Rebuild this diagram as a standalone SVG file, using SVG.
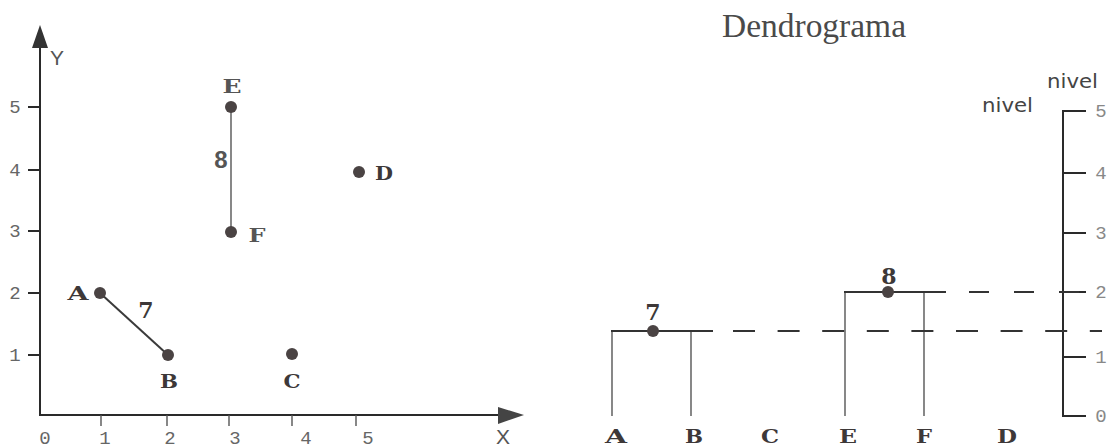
<svg xmlns="http://www.w3.org/2000/svg" width="1112" height="448" viewBox="0 0 1112 448">
<style>
.axis{stroke:#2a2a2a;stroke-width:2;fill:none}
.tick{stroke:#2a2a2a;stroke-width:2}
.thin{stroke:#555;stroke-width:1.4;fill:none}
.bar{stroke:#333;stroke-width:2.2;fill:none}
.dash{stroke:#333;stroke-width:2;fill:none}
.dot{fill:#4a4343}
.num{font-family:"Liberation Mono",monospace;font-size:19px;fill:#666;text-anchor:middle}
.lvl{font-family:"Liberation Mono",monospace;font-size:19px;fill:#888;text-anchor:middle}
.lbl{font-family:"DejaVu Serif","Liberation Serif",serif;font-weight:bold;font-size:19px;fill:#3d3838;text-anchor:middle}
.lblg{font-family:"DejaVu Serif","Liberation Serif",serif;font-weight:bold;font-size:19px;fill:#555;text-anchor:middle}
.w{font-family:"DejaVu Serif","Liberation Serif",serif;font-weight:bold;font-size:22px;fill:#3d3838;text-anchor:middle}
.ax{font-family:"Liberation Sans",sans-serif;font-size:21px;fill:#555;text-anchor:middle}
.niv{font-family:"DejaVu Sans",sans-serif;font-size:19px;fill:#444}
.title{font-family:"Liberation Serif",serif;font-size:33px;fill:#4a4a4a}
</style>

<!-- Scatter plot axes -->
<g id="scatter-axes">
  <line class="axis" x1="40" y1="46" x2="40" y2="416"/>
  <line class="axis" x1="39" y1="415" x2="500" y2="415"/>
  <polygon points="40,25 32,48 48,48" fill="#333"/>
  <polygon points="524,415 498,407 498,424" fill="#444"/>
  <line class="tick" x1="28" y1="107" x2="40" y2="107"/>
  <line class="tick" x1="28" y1="170" x2="40" y2="170"/>
  <line class="tick" x1="28" y1="231" x2="40" y2="231"/>
  <line class="tick" x1="28" y1="293" x2="40" y2="293"/>
  <line class="tick" x1="28" y1="355" x2="40" y2="355"/>
  <line class="thin" x1="101" y1="415" x2="101" y2="426"/>
  <line class="thin" x1="167" y1="415" x2="167" y2="426"/>
  <line class="thin" x1="229" y1="415" x2="229" y2="426"/>
  <line class="thin" x1="292" y1="415" x2="292" y2="426"/>
  <line class="thin" x1="356" y1="415" x2="356" y2="426"/>
  <text class="num" x="15" y="113">5</text>
  <text class="num" x="15" y="176">4</text>
  <text class="num" x="15" y="237">3</text>
  <text class="num" x="15" y="299">2</text>
  <text class="num" x="15" y="361">1</text>
  <text class="num" x="45" y="444">0</text>
  <text class="num" x="105" y="444">1</text>
  <text class="num" x="170" y="444">2</text>
  <text class="num" x="235" y="444">3</text>
  <text class="num" x="306" y="444">4</text>
  <text class="num" x="368" y="444">5</text>
  <text class="ax" x="57" y="65">Y</text>
  <text class="ax" x="503" y="444">X</text>
</g>

<!-- Scatter connectors -->
<g id="scatter-links">
  <line x1="100" y1="293" x2="168" y2="355" stroke="#3a3a3a" stroke-width="2"/>
  <line class="thin" x1="231" y1="107" x2="231" y2="232"/>
  <text class="w" x="146" y="318">7</text>
  <text x="221" y="168" font-family="Liberation Sans, sans-serif" font-weight="bold" font-size="24" fill="#555" text-anchor="middle">8</text>
</g>

<g id="pA"><circle class="dot" cx="100" cy="293" r="6"/><text class="lbl" x="78" y="300" textLength="21" lengthAdjust="spacingAndGlyphs">A</text></g>
<g id="pB"><circle class="dot" cx="168" cy="355" r="6"/><text class="lbl" x="169" y="388" textLength="18" lengthAdjust="spacingAndGlyphs">B</text></g>
<g id="pC"><circle class="dot" cx="292" cy="354" r="6"/><text class="lbl" x="292" y="388" textLength="17" lengthAdjust="spacingAndGlyphs">C</text></g>
<g id="pD"><circle class="dot" cx="359" cy="172" r="6"/><text class="lbl" x="384" y="180" textLength="18" lengthAdjust="spacingAndGlyphs">D</text></g>
<g id="pE"><circle class="dot" fill="#5a5050" cx="231" cy="107" r="6"/><text class="lblg" x="232" y="93" textLength="19" lengthAdjust="spacingAndGlyphs">E</text></g>
<g id="pF"><circle class="dot" fill="#5a5050" cx="231" cy="232" r="6"/><text class="lblg" x="257" y="242" textLength="17" lengthAdjust="spacingAndGlyphs">F</text></g>

<!-- Dendrogram -->
<text class="title" x="722" y="37" textLength="184" lengthAdjust="spacingAndGlyphs">Dendrograma</text>

<g id="level-axis">
  <line class="axis" x1="1063" y1="111" x2="1063" y2="416"/>
  <line class="tick" x1="1062" y1="111" x2="1086" y2="111"/>
  <line class="tick" x1="1063" y1="173" x2="1086" y2="173"/>
  <line class="tick" x1="1063" y1="233" x2="1086" y2="233"/>
  <line class="tick" x1="1063" y1="292" x2="1086" y2="292"/>
  <line class="tick" x1="1063" y1="357" x2="1086" y2="357"/>
  <line class="tick" x1="1062" y1="416" x2="1086" y2="416"/>
  <text class="lvl" x="1101" y="117">5</text>
  <text class="lvl" x="1101" y="179">4</text>
  <text class="lvl" x="1101" y="239">3</text>
  <text class="lvl" x="1101" y="298">2</text>
  <text class="lvl" x="1101" y="363">1</text>
  <text class="lvl" x="1101" y="422">0</text>
  <text class="niv" x="982" y="112" textLength="51" lengthAdjust="spacingAndGlyphs">nivel</text>
  <text class="niv" x="1047" y="88" textLength="51" lengthAdjust="spacingAndGlyphs">nivel</text>
</g>

<g id="dendro-links">
  <line class="thin" x1="612" y1="331" x2="612" y2="416"/>
  <line class="thin" x1="691" y1="331" x2="691" y2="416"/>
  <line class="bar" x1="611" y1="331" x2="713" y2="331"/>
  <line class="thin" x1="845" y1="292" x2="845" y2="416"/>
  <line class="thin" x1="924" y1="292" x2="924" y2="416"/>
  <line class="bar" x1="844" y1="292" x2="946" y2="292"/>
  <line class="dash" x1="733" y1="331" x2="1102" y2="331" stroke-dasharray="22 22.6"/>
  <line class="dash" x1="969" y1="292" x2="1080" y2="292" stroke-dasharray="20 25"/>
</g>

<g id="merge7"><circle class="dot" cx="653" cy="331" r="6"/><text class="w" x="653" y="320">7</text></g>
<g id="merge8"><circle class="dot" cx="888" cy="292" r="6"/><text class="w" x="889" y="284">8</text></g>

<g id="leaves">
  <text class="lbl" x="616" y="443" textLength="22" lengthAdjust="spacingAndGlyphs">A</text>
  <text class="lbl" x="694" y="443" textLength="18" lengthAdjust="spacingAndGlyphs">B</text>
  <text class="lbl" x="770" y="443" textLength="18" lengthAdjust="spacingAndGlyphs">C</text>
  <text class="lbl" x="848" y="443" textLength="18" lengthAdjust="spacingAndGlyphs">E</text>
  <text class="lbl" x="924" y="443" textLength="16" lengthAdjust="spacingAndGlyphs">F</text>
  <text class="lbl" x="1007" y="443" textLength="20" lengthAdjust="spacingAndGlyphs">D</text>
</g>
</svg>
